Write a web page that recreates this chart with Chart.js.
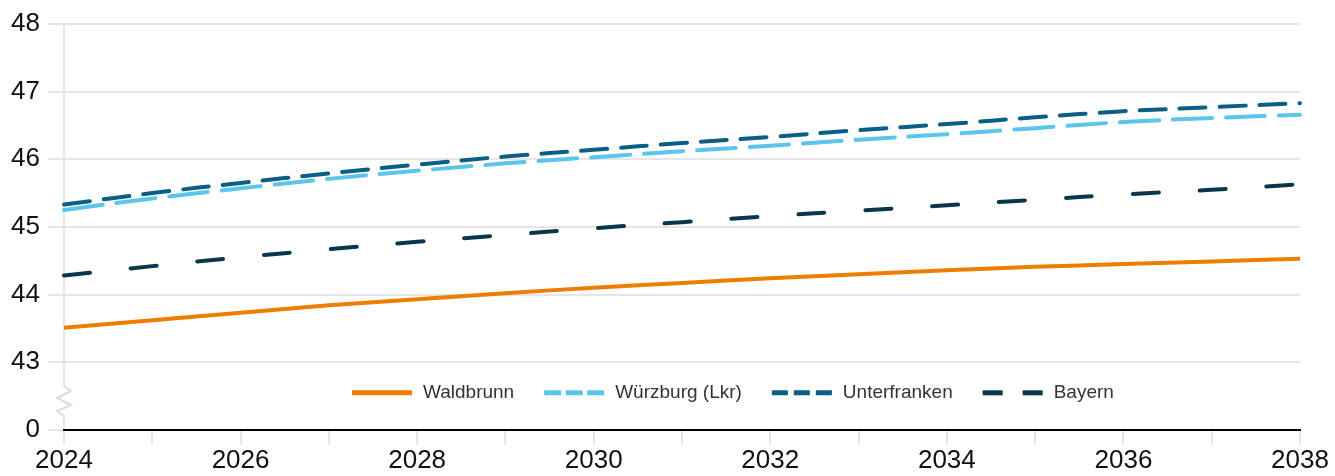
<!DOCTYPE html>
<html lang="de">
<head>
<meta charset="utf-8">
<title>Durchschnittsalter</title>
<script src="https://cdn.jsdelivr.net/npm/chart.js@4"></script>
<style>
  html, body { margin: 0; padding: 0; background: #fff; }
  canvas { display: block; }
</style>
</head>
<body>
<canvas id="grafik" width="1335" height="476"></canvas>
<script>
// ======================
// DATEN
// ======================

const jahre = ["2024","2025","2026","2027","2028","2029","2030","2031","2032","2033","2034","2035","2036","2037","2038"];

const waldbrunn    = [43.51,43.62,43.73,43.84,43.93,44.02,44.10,44.17,44.24,44.30,44.36,44.41,44.45,44.49,44.53];
const wuerzburg    = [45.25,45.42,45.57,45.71,45.83,45.94,46.03,46.12,46.20,46.29,46.37,46.46,46.55,46.61,46.66];
const unterfranken = [45.33,45.50,45.65,45.79,45.92,46.04,46.14,46.24,46.33,46.43,46.52,46.62,46.71,46.77,46.83];
const bayern       = [44.28,44.42,44.55,44.67,44.78,44.88,44.98,45.07,45.16,45.24,45.32,45.40,45.48,45.55,45.63];

const namen = ["Waldbrunn", "Würzburg (Lkr)", "Unterfranken", "Bayern"];

// y-Achse ist unterbrochen: unterster Tick (42) wird als "0" beschriftet
const yMin = 42;
const yMax = 48;
const yBruchLabel = "0";

// ======================
// STIL
// ======================

const schrift = '"Liberation Sans", Arial, Helvetica, sans-serif';
const grau = "#e6e6e6";

const farben = ["#ef7d00", "#5bc5eb", "#0b5e85", "#08374a"];
const striche = [[], [39, 14], [26, 14], [26, 41]];
const legendeStriche = [[], [17, 4.5], [16, 6], [20, 20]];

// Legende innerhalb der Zeichenfläche
const innenLegende = {
    id: "innenLegende",
    afterDatasetsDraw(chart) {
        const ctx = chart.ctx;
        const area = chart.chartArea;
        ctx.save();
        ctx.font = "19px " + schrift;
        ctx.textBaseline = "middle";
        let x = area.left + 288;
        const y = area.bottom - 37;
        chart.data.datasets.forEach((ds, i) => {
            ctx.strokeStyle = ds.borderColor;
            ctx.lineWidth = 5;
            ctx.lineCap = "butt";
            ctx.setLineDash(legendeStriche[i]);
            ctx.beginPath();
            ctx.moveTo(x, y);
            ctx.lineTo(x + 60, y);
            ctx.stroke();
            ctx.setLineDash([]);
            ctx.fillStyle = "#333";
            ctx.fillText(ds.label, x + 71, y);
            x += 71 + ctx.measureText(ds.label).width + 30;
        });
        ctx.restore();
    }
};

// Achsenbruch-Zeichen auf der y-Achse
const achsenBruch = {
    id: "achsenBruch",
    afterDraw(chart) {
        const ctx = chart.ctx;
        const yScale = chart.scales.y;
        const x0 = chart.chartArea.left;
        const oben = yScale.getPixelForValue(yMin + 1);
        const unten = yScale.getPixelForValue(yMin);
        const mitte = (oben + unten) / 2 + 5;
        ctx.save();
        ctx.fillStyle = "#fff";
        ctx.fillRect(x0 - 3, mitte - 15, 6, 30);
        ctx.strokeStyle = "#dcdcdc";
        ctx.lineWidth = 2;
        ctx.lineJoin = "miter";
        ctx.beginPath();
        ctx.moveTo(x0, mitte - 15);
        ctx.lineTo(x0 + 7, mitte - 10);
        ctx.lineTo(x0 - 7, mitte - 3);
        ctx.lineTo(x0 + 7, mitte + 4);
        ctx.lineTo(x0 - 7, mitte + 10);
        ctx.lineTo(x0, mitte + 15);
        ctx.stroke();
        ctx.restore();
    }
};

// ======================
// GRAFIK
// ======================

const reihen = [waldbrunn, wuerzburg, unterfranken, bayern];

new Chart(document.getElementById("grafik"), {
    type: "line",
    data: {
        labels: jahre,
        datasets: reihen.map((werte, i) => ({
            label: namen[i],
            data: werte,
            borderColor: farben[i],
            backgroundColor: farben[i],
            borderWidth: 4,
            borderDash: striche[i],
            borderCapStyle: i === 0 ? "butt" : "round",
            pointRadius: 0,
            pointHoverRadius: 0,
            tension: 0.4,
            fill: false
        }))
    },
    options: {
        responsive: false,
        animation: false,
        devicePixelRatio: 1,
        layout: { padding: { top: 24, right: 35, left: 0, bottom: 0 } },
        plugins: {
            legend: { display: false },
            tooltip: { enabled: false }
        },
        scales: {
            x: {
                offset: false,
                grid: { drawOnChartArea: false, color: grau, lineWidth: 2, tickLength: 15 },
                border: { color: "#000", width: 2, z: 1 },
                ticks: {
                    padding: 0,
                    autoSkip: false,
                    maxRotation: 0,
                    color: "#111",
                    font: { family: schrift, size: 26 },
                    callback: function (v, i) {
                        return i % 2 === 0 ? this.getLabelForValue(v) : "";
                    }
                }
            },
            y: {
                min: yMin,
                max: yMax,
                grid: { color: grau, lineWidth: 2, tickLength: 16 },
                border: { color: grau, width: 2 },
                ticks: {
                    stepSize: 1,
                    padding: 8,
                    color: "#111",
                    font: { family: schrift, size: 26 },
                    callback: v => v === yMin ? yBruchLabel : v
                },
                afterFit: s => { s.width = 64; }
            }
        }
    },
    plugins: [innenLegende, achsenBruch]
});
</script>
</body>
</html>
